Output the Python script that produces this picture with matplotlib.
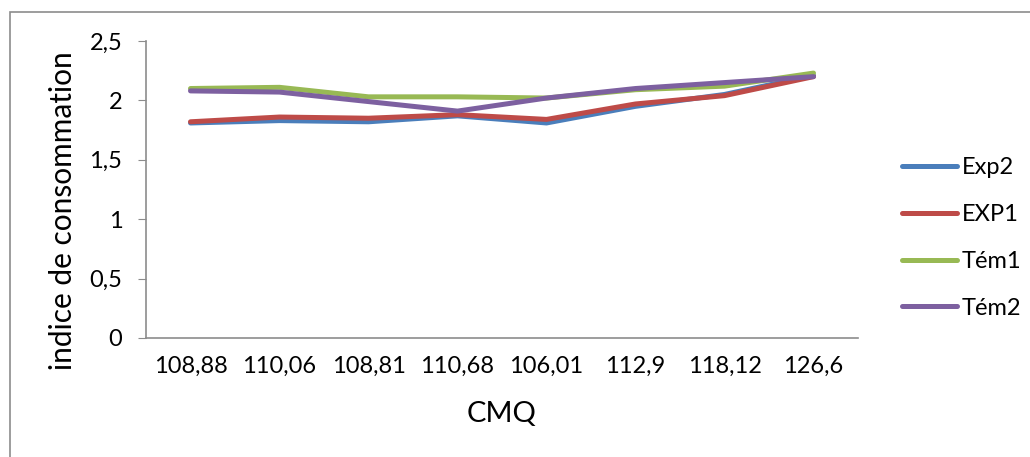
import matplotlib
matplotlib.use("Agg")
import matplotlib.pyplot as plt
from matplotlib.patches import Rectangle

categories = ["108,88", "110,06", "108,81", "110,68", "106,01", "112,9", "118,12", "126,6"]
exp2 = [1.81, 1.83, 1.82, 1.87, 1.81, 1.95, 2.05, 2.21]
exp1 = [1.82, 1.86, 1.85, 1.88, 1.84, 1.97, 2.04, 2.20]
tem1 = [2.10, 2.11, 2.03, 2.03, 2.02, 2.09, 2.12, 2.23]
tem2 = [2.08, 2.07, 1.99, 1.91, 2.02, 2.10, 2.15, 2.20]
series_names = ["Exp2", "EXP1", "Tém1", "Tém2"]
yticks = [0, 0.5, 1, 1.5, 2, 2.5]
ytick_labels = ["0", "0,5", "1", "1,5", "2", "2,5"]

colors = ["#4A7EBB", "#BE4B48", "#98B954", "#7D60A0"]

plt.rcParams['font.family'] = ['Lato', 'DejaVu Sans']

W, H = 1030, 457
fig = plt.figure(figsize=(W / 100, H / 100), dpi=100)
fig.patch.set_facecolor("white")

# outer chart border
fig.add_artist(Rectangle((10 / W, -0.1), 1.2, 1 - 12 / H + 0.1, transform=fig.transFigure,
                         fill=False, edgecolor="#8c8c8c", linewidth=1.2))

ax = fig.add_axes([146 / W, 1 - 338 / H, (858 - 146) / W, (338 - 41) / H])
x = list(range(len(categories)))
for vals, name, c in zip([exp2, exp1, tem1, tem2], series_names, colors):
    ax.plot(x, vals, color=c, linewidth=3.6, label=name, solid_capstyle="round",
            solid_joinstyle="round")

ax.set_xlim(-0.5, len(categories) - 0.5)
ax.set_ylim(0, 2.5)
ax.set_xticks(x)
ax.set_xticklabels(categories, fontsize=17)
ax.set_yticks(yticks)
ax.set_yticklabels(ytick_labels, fontsize=17)
ax.tick_params(axis="x", length=0, pad=13)
ax.tick_params(axis="y", length=6, color="#8c8c8c", pad=11, direction="out")
for s in ["top", "right"]:
    ax.spines[s].set_visible(False)
for s in ["left", "bottom"]:
    ax.spines[s].set_color("#8c8c8c")
    ax.spines[s].set_linewidth(1.2)

ax.set_xlabel("CMQ", fontsize=21)
ax.set_ylabel("indice de consommation", fontsize=21.5)
ax.xaxis.set_label_coords(0.5, (338 - 401) / 297)
ax.yaxis.set_label_coords((77 - 146) / 712, (338 - 211) / 297)

leg = fig.legend(loc="center left", bbox_to_anchor=(893 / W, 1 - 238 / H), frameon=False,
                 fontsize=17, handlelength=2.3, handletextpad=0.22, labelspacing=1.09,
                 borderaxespad=0)
for line in leg.get_lines():
    line.set_linewidth(3.6)

fig.savefig("out.png", dpi=100, facecolor="white")
